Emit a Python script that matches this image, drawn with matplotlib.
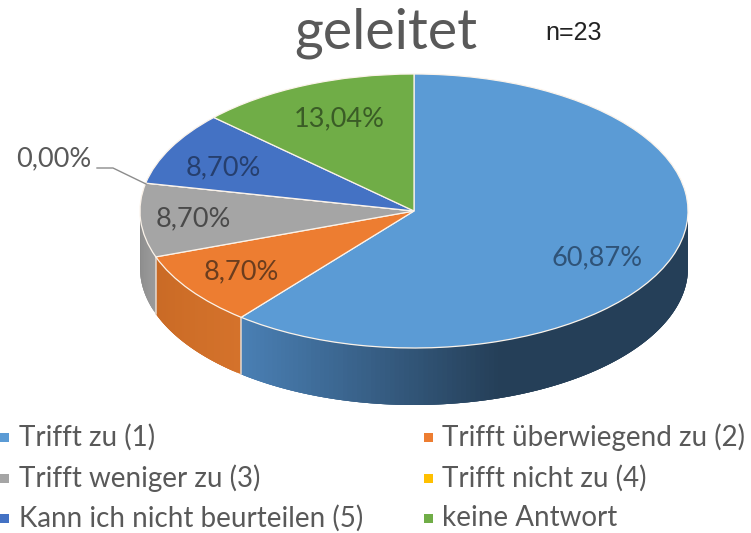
import numpy as np
import matplotlib
matplotlib.use("Agg")
import matplotlib.pyplot as plt
from matplotlib.collections import PolyCollection
from matplotlib.colors import to_rgb

categories = ["Trifft zu (1)", "Trifft überwiegend zu (2)", "Trifft weniger zu (3)",
              "Trifft nicht zu (4)", "Kann ich nicht beurteilen (5)", "keine Antwort"]
values = [60.87, 8.70, 8.70, 0.00, 8.70, 13.04]
value_labels = ["60,87%", "8,70%", "8,70%", "0,00%", "8,70%", "13,04%"]
colors = ["#5B9BD5", "#ED7D31", "#A5A5A5", "#FFC000", "#4472C4", "#70AD47"]
title = "geleitet"
note = "n=23"

W, H = 751, 533
CX, CY, RX, RY, DEPTH = 414, 211, 274, 137, 57
FONT = "Lato"
GREY = "#595959"

fig = plt.figure(figsize=(W / 100, H / 100), dpi=100, facecolor="white")
ax = fig.add_axes([(CX - RX) / W, 1 - (CY + RY) / H, 2 * RX / W, 2 * RY / H])
ax.set_xlim(-1, 1)
ax.set_ylim(-1, 1)
ax.axis("off")


def blend(a, b, t):
    a, b = np.array(to_rgb(a)), np.array(to_rgb(b))
    return tuple(a + (b - a) * np.clip(t, 0, 1))


wall_shades = {0: ("#4A80B5", "#253F58"), 1: ("#D4722B", "#C96A25"), 2: ("#9A9A9A", "#8A8A8A")}
d = DEPTH / RY
edges = np.concatenate([[0], np.cumsum(values)]) / sum(values) * 360
polys, fc = [], []
for i in range(len(values)):
    a0, a1 = edges[i], edges[i + 1]
    lo, hi = max(a0, 90), min(a1, 270)
    if hi <= lo:
        continue
    deg = np.append(np.arange(lo, hi, 1.0), hi)
    th = np.radians(deg)
    # draw right-to-left so that each band overlaps its neighbour, hiding seams
    for k in range(len(th) - 1):
        t = th[k:min(k + 4, len(th))]
        top = np.c_[np.sin(t), np.cos(t)]
        bottom = np.c_[np.sin(t), np.cos(t) - d][::-1]
        polys.append(np.vstack([top, bottom]))
        if i == 0:
            s = (np.sin(t[0]) + 0.63) / 0.95
        else:
            s = (deg[k] - lo) / max(hi - lo, 1)
        c0, c1 = wall_shades.get(i, (colors[i], colors[i]))
        fc.append(blend(c0, c1, s))
ax.add_collection(PolyCollection(polys, facecolors=fc, edgecolors="none", clip_on=False))

# light seams between wall sections
for a in edges[1:3]:
    t = np.radians(a)
    if 90 < a < 270:
        ax.plot([np.sin(t)] * 2, [np.cos(t), np.cos(t) - d], color="#E4D9D0", lw=1.1,
                clip_on=False, zorder=2)

wedges, _ = ax.pie(values, colors=colors, startangle=90, counterclock=False, radius=1,
                   wedgeprops=dict(edgecolor="#FBF3EA", linewidth=0.9, zorder=3, clip_on=False))
ax.set_aspect("auto")
ax.set_xlim(-1, 1)
ax.set_ylim(-1, 1)


def to_fig(px, py):
    return px / W, 1 - py / H


# data labels
label_pos = [(597, 258), (241, 272), (193, 219), (54, 159), (223, 168), (339, 119)]
label_col = ["#2F5378", "#6B3D1E", "#4A4A4A", GREY, "#263F6E", "#3A5C26"]
for txt, (px, py), col in zip(value_labels, label_pos, label_col):
    fx, fy = to_fig(px, py)
    fig.text(fx, fy, txt, ha="center", va="center", fontsize=19.5, color=col, family=FONT, zorder=10)

# leader line for the 0 % slice
lx = [97, 113, 146]
ly = [168, 168, 184]
fig.add_artist(plt.Line2D([v / W for v in lx], [1 - v / H for v in ly], color="#8C8C8C", lw=1.0))

# title and note
fx, fy = to_fig(386, 33)
fig.text(fx, fy, title, ha="center", va="center", fontsize=40, color=GREY, family=FONT)
fx, fy = to_fig(574, 33)
fig.text(fx, fy, note, ha="center", va="center", fontsize=18, color="#222222", family="Liberation Sans")

# legend
leg_pos = [(0, 437), (424, 437), (0, 478), (424, 478), (0, 518), (424, 518)]
for name, col, (px, py) in zip(categories, colors, leg_pos):
    fig.add_artist(plt.Rectangle((px / W, 1 - (py + 5) / H), 9 / W, 9 / H,
                                 facecolor=col, edgecolor="none", transform=fig.transFigure))
    tx = 19 if px == 0 else 442
    fx, fy = to_fig(tx, py)
    fig.text(fx, fy, name, ha="left", va="center", fontsize=20, color=GREY, family=FONT)

fig.savefig("out.png", dpi=100, facecolor="white")
